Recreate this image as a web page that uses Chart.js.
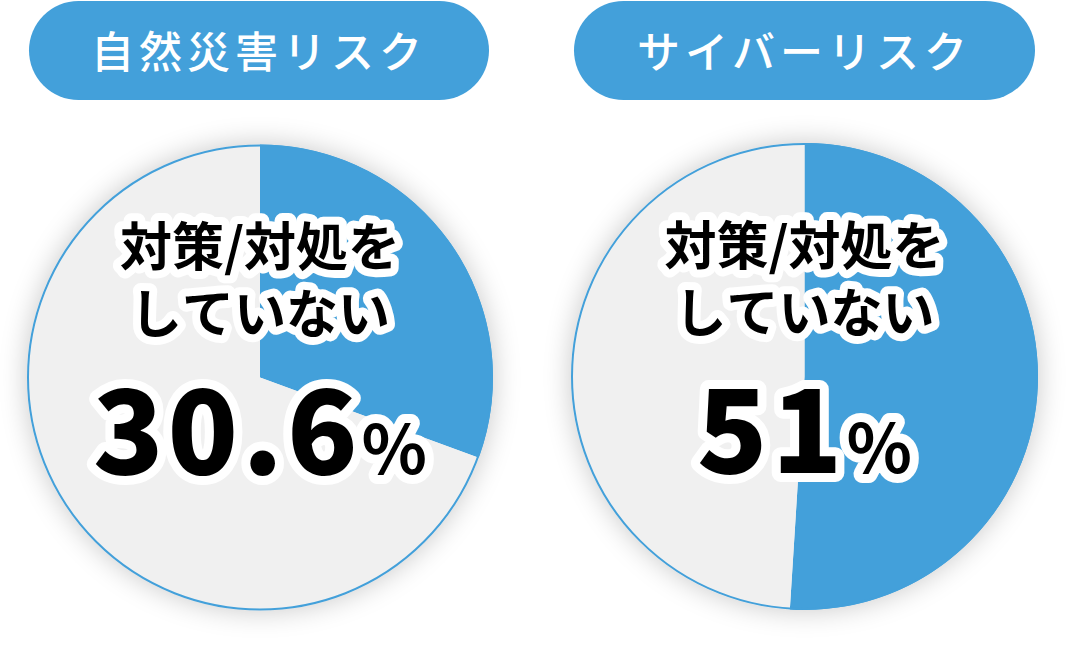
<!DOCTYPE html>
<html><head><meta charset="utf-8">
<script src="https://cdn.jsdelivr.net/npm/chart.js@4"></script>
<style>
html,body{margin:0;padding:0;background:#fff;}
#wrap{position:relative;width:1082px;height:664px;overflow:hidden;font-family:"Noto Sans CJK JP","Noto Sans",sans-serif;}
.pill{position:absolute;top:1px;height:99px;border-radius:50px;background:#43a0da;color:#fff;font-size:43px;font-weight:500;letter-spacing:5px;display:flex;align-items:center;justify-content:center;padding-bottom:3px;box-sizing:border-box;}
.cv{position:absolute;top:0;height:664px;}
</style></head><body>
<div id="wrap">
<div class="pill" style="left:29px;width:460px;">自然災害リスク</div>
<div class="pill" style="left:574px;width:461px;">サイバーリスク</div>
<div class="cv" style="left:0;width:540px;"><canvas id="c1"></canvas></div>
<div class="cv" style="left:540px;width:542px;"><canvas id="c2"></canvas></div>
</div>
<script>
const titles = ["自然災害リスク", "サイバーリスク"];
const categories = ["対策/対処をしていない", "その他"];
const naturalValues = [30.6, 69.4];
const cyberValues = [51, 49];
const labelLines = ["対策/対処を", "していない"];
const percentLabels = ["30.6", "51"];

const BLUE = "#43a0da", GRAY = "#f0f0f0";
const FONT = '"Noto Sans CJK JP","Noto Sans",sans-serif';

function makePlugin(numText){
  return {
    id:'deco',
    beforeDatasetsDraw(chart){
      const m = chart.getDatasetMeta(0).data[0];
      const ctx = chart.ctx;
      ctx.save();
      ctx.beginPath();
      ctx.arc(m.x, m.y, m.outerRadius, 0, Math.PI*2);
      ctx.fillStyle = GRAY;
      ctx.shadowColor = "rgba(0,0,0,0.22)";
      ctx.shadowBlur = 28;
      ctx.fill();
      ctx.restore();
    },
    afterDatasetsDraw(chart){
      const m = chart.getDatasetMeta(0).data[0];
      const ctx = chart.ctx;
      const cx = m.x, cy = m.y;
      ctx.save();
      ctx.beginPath();
      ctx.arc(cx, cy, m.outerRadius-1, 0, Math.PI*2);
      ctx.strokeStyle = BLUE;
      ctx.lineWidth = 2;
      ctx.stroke();
      ctx.textAlign = "center";
      ctx.textBaseline = "middle";
      ctx.lineJoin = "round";
      ctx.font = "bold 52px " + FONT;
      const lines = [[labelLines[0], cy-131],[labelLines[1], cy-64]];
      ctx.strokeStyle = "#fff"; ctx.lineWidth = 16;
      lines.forEach(([t,y])=>ctx.strokeText(t, cx, y));
      ctx.fillStyle = "#000";
      lines.forEach(([t,y])=>ctx.fillText(t, cx, y));
      const bigFont = "900 116px " + FONT, pctFont = "bold 68px " + FONT;
      ctx.letterSpacing = "4px";
      ctx.font = bigFont; const wn = ctx.measureText(numText).width;
      ctx.letterSpacing = "0px";
      ctx.font = pctFont; const wp = ctx.measureText("%").width;
      const x0 = cx - (wn+wp)/2;
      const yb = cy + 96;
      ctx.textAlign = "left"; ctx.textBaseline = "alphabetic";
      ctx.lineWidth = 18;
      ctx.letterSpacing = "4px";
      ctx.font = bigFont; ctx.strokeText(numText, x0, yb);
      ctx.letterSpacing = "0px";
      ctx.font = pctFont; ctx.strokeText("%", x0+wn, yb);
      ctx.letterSpacing = "4px";
      ctx.font = bigFont; ctx.fillText(numText, x0, yb);
      ctx.letterSpacing = "0px";
      ctx.font = pctFont; ctx.fillText("%", x0+wn, yb);
      ctx.restore();
    }
  };
}

function makeChart(id, values, pad, numText){
  new Chart(document.getElementById(id), {
    type:'pie',
    data:{labels:categories, datasets:[{data:values, backgroundColor:[BLUE, GRAY], borderWidth:0, hoverOffset:0}]},
    options:{
      responsive:true, maintainAspectRatio:false, animation:false,
      layout:{padding:pad},
      plugins:{legend:{display:false}, tooltip:{enabled:false}},
      events:[]
    },
    plugins:[makePlugin(numText)]
  });
}
makeChart('c1', naturalValues, {left:27, right:47, top:144, bottom:53}, percentLabels[0]);
makeChart('c2', cyberValues, {left:31, right:44, top:143, bottom:54}, percentLabels[1]);
</script>
</body></html>
